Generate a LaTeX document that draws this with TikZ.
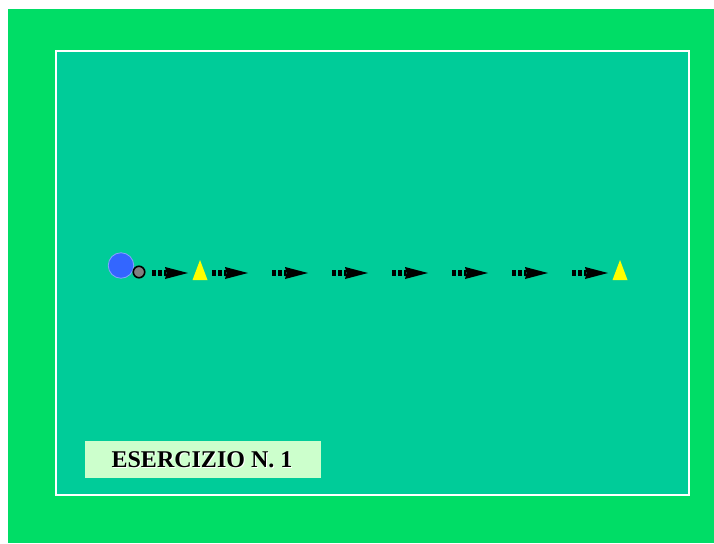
\documentclass[tikz,border=0pt]{standalone}
\usepackage{fontspec}
\setmainfont{Liberation Serif}
\definecolor{outergreen}{HTML}{00DD66}
\definecolor{fieldgreen}{HTML}{00CC99}
\definecolor{labelgreen}{HTML}{CCFFCC}
\definecolor{ballblue}{HTML}{3366FF}
\definecolor{conyellow}{HTML}{FFFF00}
\tikzset{
  conestyle/.style={fill=conyellow, draw=none},
  dashbit/.style={fill=black, draw=none},
  pics/runarrow/.style={code={
    \fill[dashbit] (0,-3) rectangle (4,3);
    \fill[dashbit] (6,-3) rectangle (9.5,3);
    \fill[dashbit] (11.5,-3) rectangle (14,3);
    \fill[dashbit] (13,-6) -- (36,0) -- (13,6) -- (14.5,0) -- cycle;
  }},
  pics/cone/.style={code={
    \fill[conestyle] (-7.5,10) -- (0,-10) -- (7.5,10) -- cycle;
  }}
}
\begin{document}
\begin{tikzpicture}[x=1pt,y=-1pt]
\useasboundingbox (0,0) rectangle (714,543);
\fill[white] (0,0) rectangle (714,543);
\fill[outergreen] (8,9) rectangle (714,543);
\fill[fieldgreen] (56,51) rectangle (689,495);
\draw[white, line width=1.6] (56,51) rectangle (689,495);
% ball and player
\node[circle, fill=ballblue, draw=ballblue!60!white, line width=0.8, minimum size=25.5, inner sep=0] (player) at (121,265.5) {};
\node[circle, fill=gray, draw=black, line width=1.6, minimum size=11.5, inner sep=0] (ball) at (139,272) {};
% cones
\pic at (200,270) {cone};
\pic at (620,270) {cone};
% arrows
\foreach \x in {152,212,272,332,392,452,512,572}
  \pic at (\x,273) {runarrow};
% label
\node[fill=labelgreen, minimum width=236, minimum height=37, inner sep=0] (label) at (203,459.5) {};
\node[font=\fontsize{24}{28}\selectfont\bfseries, text=white] at (203,461) {ESERCIZIO N. 1};
\node[font=\fontsize{24}{28}\selectfont\bfseries, text=black] (labeltext) at (202,460) {ESERCIZIO N. 1};
\end{tikzpicture}
\end{document}
